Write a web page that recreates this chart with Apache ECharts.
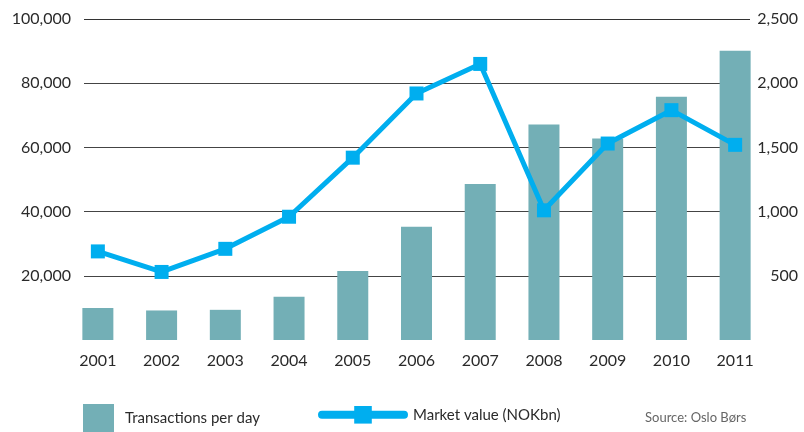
<!DOCTYPE html>
<html>
<head>
<meta charset="utf-8">
<script src="https://cdn.jsdelivr.net/npm/echarts@6/dist/echarts.min.js"></script>
<style>
  html, body { margin: 0; padding: 0; background: #fff; }
  #chart { width: 804px; height: 432px; }
</style>
</head>
<body>
<div id="chart"></div>
<script>
const years = ['2001', '2002', '2003', '2004', '2005', '2006', '2007', '2008', '2009', '2010', '2011']
const transactionsPerDay = [10000, 9200, 9400, 13500, 21500, 35300, 48600, 67100, 62800, 75800, 90100]
const marketValue = [690, 530, 710, 960, 1420, 1920, 2150, 1010, 1530, 1790, 1520]

const font = 'Lato, "Open Sans", sans-serif'
const barColor = '#73afb6'
const lineColor = '#00aeef'

function thousands(v) {
  if (v === 0) return ''
  return v.toLocaleString('en-US')
}

const myChart = echarts.init(document.getElementById('chart'))
const option = {
  animation: false,
  textStyle: { fontFamily: font },
  grid: [
    // grid for the horizontal lines and axis labels
    { left: 84, right: 54, top: 19, bottom: 92 },
    // grid for the bars and the line
    { left: 66, right: 37, top: 19, bottom: 92 }
  ],
  legend: [
    {
      data: [{ name: 'Transactions per day', icon: 'rect' }],
      left: 83, top: 404, padding: 0,
      itemWidth: 31, itemHeight: 28,
      textStyle: { fontSize: 15, color: '#2a2a2a', fontFamily: font, padding: [0, 0, 0, 6] }
    },
    {
      data: ['Market value (NOKbn)'],
      left: 318, top: 406, padding: 0,
      itemWidth: 82, itemHeight: 22,
      lineStyle: { width: 8, cap: 'round' },
      textStyle: { fontSize: 15, color: '#2a2a2a', fontFamily: font, padding: [0, 0, 0, 4] }
    }
  ],
  graphic: [{
    type: 'text',
    left: 645, top: 411,
    style: { text: 'Source: Oslo Børs', fontSize: 13, fill: '#666', fontFamily: font }
  }],
  xAxis: [
    { type: 'category', gridIndex: 0, data: years, show: false },
    {
      type: 'category', gridIndex: 1, data: years,
      axisLine: { show: false },
      axisTick: { show: false },
      axisLabel: { fontSize: 16, color: '#2a2a2a', margin: 13 }
    }
  ],
  yAxis: [
    {
      type: 'value', gridIndex: 0, min: 0, max: 100000, interval: 20000,
      axisLine: { show: false }, axisTick: { show: false },
      axisLabel: { fontSize: 16, color: '#2a2a2a', margin: 13, formatter: thousands },
      splitLine: { lineStyle: { color: ['rgba(0,0,0,0)', '#444', '#444', '#444', '#444', '#333'], width: 1 } }
    },
    {
      type: 'value', gridIndex: 0, position: 'right', min: 0, max: 2500, interval: 500,
      axisLine: { show: false }, axisTick: { show: false },
      axisLabel: { fontSize: 16, color: '#2a2a2a', margin: 48, align: 'right', formatter: thousands },
      splitLine: { show: false }
    },
    { type: 'value', gridIndex: 1, min: 0, max: 100000, show: false },
    { type: 'value', gridIndex: 1, min: 0, max: 2500, show: false, position: 'right' }
  ],
  series: [
    {
      name: 'Transactions per day',
      type: 'bar',
      xAxisIndex: 1, yAxisIndex: 2,
      data: transactionsPerDay,
      barWidth: 31,
      itemStyle: { color: barColor }
    },
    {
      name: 'Market value (NOKbn)',
      type: 'line',
      xAxisIndex: 1, yAxisIndex: 3,
      data: marketValue,
      symbol: 'rect',
      symbolSize: 14,
      lineStyle: { color: lineColor, width: 5 },
      itemStyle: { color: lineColor }
    }
  ]
}
myChart.setOption(option)
</script>
</body>
</html>
